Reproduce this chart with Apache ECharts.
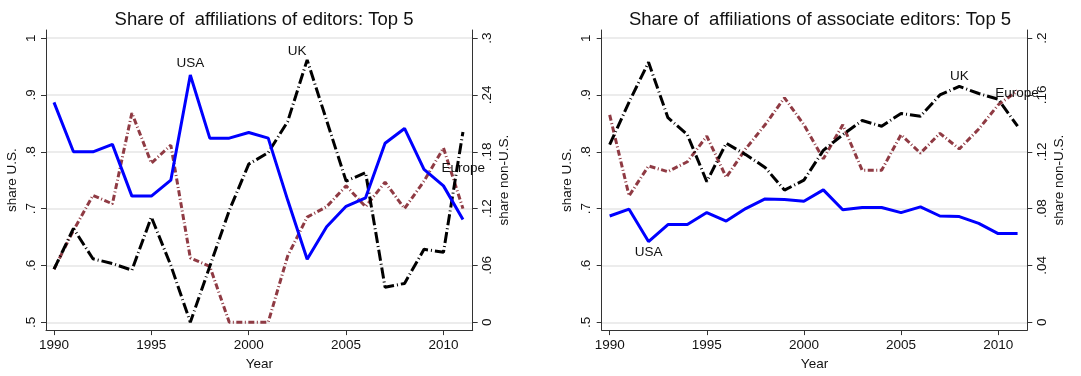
<!DOCTYPE html>
<html><head><meta charset="utf-8">
<script src="https://cdn.jsdelivr.net/npm/echarts@6/dist/echarts.min.js"></script>
<style>html,body{margin:0;padding:0;background:#fff}#c{width:1081px;height:376px}</style>
</head><body><div id="c"></div>
<script>
const years = [1990,1991,1992,1993,1994,1995,1996,1997,1998,1999,2000,2001,2002,2003,2004,2005,2006,2007,2008,2009,2010,2011];
// Editors (left panel)
const edUSA    = [0.887,0.800,0.800,0.813,0.722,0.722,0.750,0.935,0.824,0.824,0.834,0.824,0.715,0.611,0.668,0.704,0.719,0.815,0.841,0.769,0.740,0.681];
const edUK     = [0.056,0.099,0.067,0.062,0.055,0.111,0.060,0.000,0.059,0.118,0.167,0.179,0.212,0.277,0.213,0.149,0.158,0.037,0.041,0.077,0.074,0.201];
const edEurope = [0.056,0.097,0.134,0.125,0.221,0.168,0.187,0.068,0.059,0.000,0.000,0.000,0.070,0.111,0.122,0.144,0.122,0.148,0.120,0.149,0.184,0.120];
// Associate editors (right panel)
const aeUSA    = [0.687,0.699,0.642,0.672,0.672,0.693,0.678,0.700,0.717,0.716,0.713,0.733,0.698,0.702,0.702,0.693,0.703,0.687,0.686,0.674,0.656,0.656];
const aeUK     = [0.125,0.155,0.183,0.144,0.132,0.099,0.126,0.118,0.109,0.093,0.100,0.121,0.132,0.142,0.138,0.147,0.145,0.160,0.166,0.161,0.157,0.138];
const aeEurope = [0.146,0.089,0.110,0.106,0.113,0.131,0.102,0.122,0.139,0.158,0.139,0.115,0.139,0.107,0.107,0.132,0.119,0.133,0.122,0.136,0.153,0.163];
// Tick labels
const yearTicks = [1990,1995,2000,2005,2010];
const usTicks = [0.5,0.6,0.7,0.8,0.9,1];
const edNonUSTicks = [0,0.06,0.12,0.18,0.24,0.3];
const aeNonUSTicks = [0,0.04,0.08,0.12,0.16,0.2];
const titles = ['Share of  affiliations of editors: Top 5','Share of  affiliations of associate editors: Top 5'];

const FONT = '"Liberation Sans", Arial, sans-serif';
const usMin = 0.4862, usMax = 1.0143;
const fmt = v => { let s = String(+(+v).toFixed(4)); return s.replace(/^0\./,'.').replace(/^-0\./,'-.'); };

function pairs(arr, labelIdx, label) {
  return arr.map((v,i) => {
    if (i === labelIdx) return { value:[years[i], v], label: Object.assign({show:true, fontFamily:FONT, fontSize:13.5, color:'#111'}, label) };
    return [years[i], v];
  });
}

function xAxis(g){
  return {type:'value', gridIndex:g, min:1989.59, max:2011.5,
    name:'Year', nameLocation:'middle', nameGap:23,
    nameTextStyle:{fontFamily:FONT, fontSize:13.5, color:'#111'},
    axisLine:{show:true, onZero:false, lineStyle:{color:'#333', width:1}},
    axisTick:{show:true, length:5, customValues:yearTicks, lineStyle:{color:'#333'}},
    axisLabel:{customValues:yearTicks, formatter:v => String(Math.round(v)), fontFamily:FONT, fontSize:13.5, color:'#111', margin:8},
    splitLine:{show:false}};
}
function yAxis(g, pos, min, max, ticks, name, split){
  return {type:'value', gridIndex:g, position:pos, min:min, max:max,
    name:name, nameLocation:'middle', nameGap:pos === 'left' ? 27 : 25, nameRotate:90,
    nameTextStyle:{fontFamily:FONT, fontSize:13.5, color:'#111'},
    axisLine:{show:true, onZero:false, lineStyle:{color:'#333', width:1}},
    axisTick:{show:true, length:5, customValues:ticks, lineStyle:{color:'#333'}},
    axisLabel:{customValues:ticks, rotate:90, formatter:fmt, fontFamily:FONT, fontSize:13.5, color:'#111', margin:8},
    splitLine:{show:split, lineStyle:{color:'#e6e6e6', width:1.5}}};
}
const blue = {color:'#0000ff', width:3, type:'solid'};
const black = {color:'#000000', width:3, type:[11,3,1,3]};
const brown = {color:'#8f3a43', width:3, type:[6,2.5,1,2.5]};
function line(x, y, data, ls, z){
  return {type:'line', xAxisIndex:x, yAxisIndex:y, data:data, symbol:'circle', symbolSize:0, showSymbol:true,
    lineStyle:ls, itemStyle:{color:ls.color}, silent:true, animation:false, z:z};
}

const chart = echarts.init(document.getElementById('c'), null, {renderer:'canvas'});
chart.setOption({
  backgroundColor:'#fff',
  animation:false,
  title:[
    {text:titles[0], left:259, top:5, textAlign:'center', textStyle:{fontFamily:FONT, fontSize:18.5, fontWeight:'normal', color:'#111'}},
    {text:titles[1], left:815, top:5, textAlign:'center', textStyle:{fontFamily:FONT, fontSize:18.5, fontWeight:'normal', color:'#111'}}
  ],
  grid:[
    {left:46, top:30, width:426.7, height:305.7},
    {left:601.7, top:30, width:425.6, height:305.7}
  ],
  xAxis:[xAxis(0), xAxis(1)],
  yAxis:[
    yAxis(0,'left', usMin, usMax, usTicks, 'share U.S.', true),
    yAxis(0,'right', (usMin-0.5)*0.6, (usMax-0.5)*0.6, edNonUSTicks, 'share non-U.S.', false),
    yAxis(1,'left', usMin, usMax, usTicks, 'share U.S.', true),
    yAxis(1,'right', (usMin-0.5)*0.4, (usMax-0.5)*0.4, aeNonUSTicks, 'share non-U.S.', false)
  ],
  series:[
    line(0,1, pairs(edEurope, 20, {formatter:'Europe', position:'right', distance:0, offset:[-2,20]}), brown, 2),
    line(0,1, pairs(edUK, 13, {formatter:'UK', position:'top', distance:2, offset:[-10,0]}), black, 3),
    line(0,0, pairs(edUSA, 7, {formatter:'USA', position:'top', distance:5}), blue, 4),
    line(1,3, pairs(aeEurope, 20, {formatter:'Europe', position:'right', distance:0, offset:[-3,-12]}), brown, 2),
    line(1,3, pairs(aeUK, 18, {formatter:'UK', position:'top', distance:3}), black, 3),
    line(1,2, pairs(aeUSA, 2, {formatter:'USA', position:'bottom', distance:4}), blue, 4)
  ]
});
</script></body></html>
